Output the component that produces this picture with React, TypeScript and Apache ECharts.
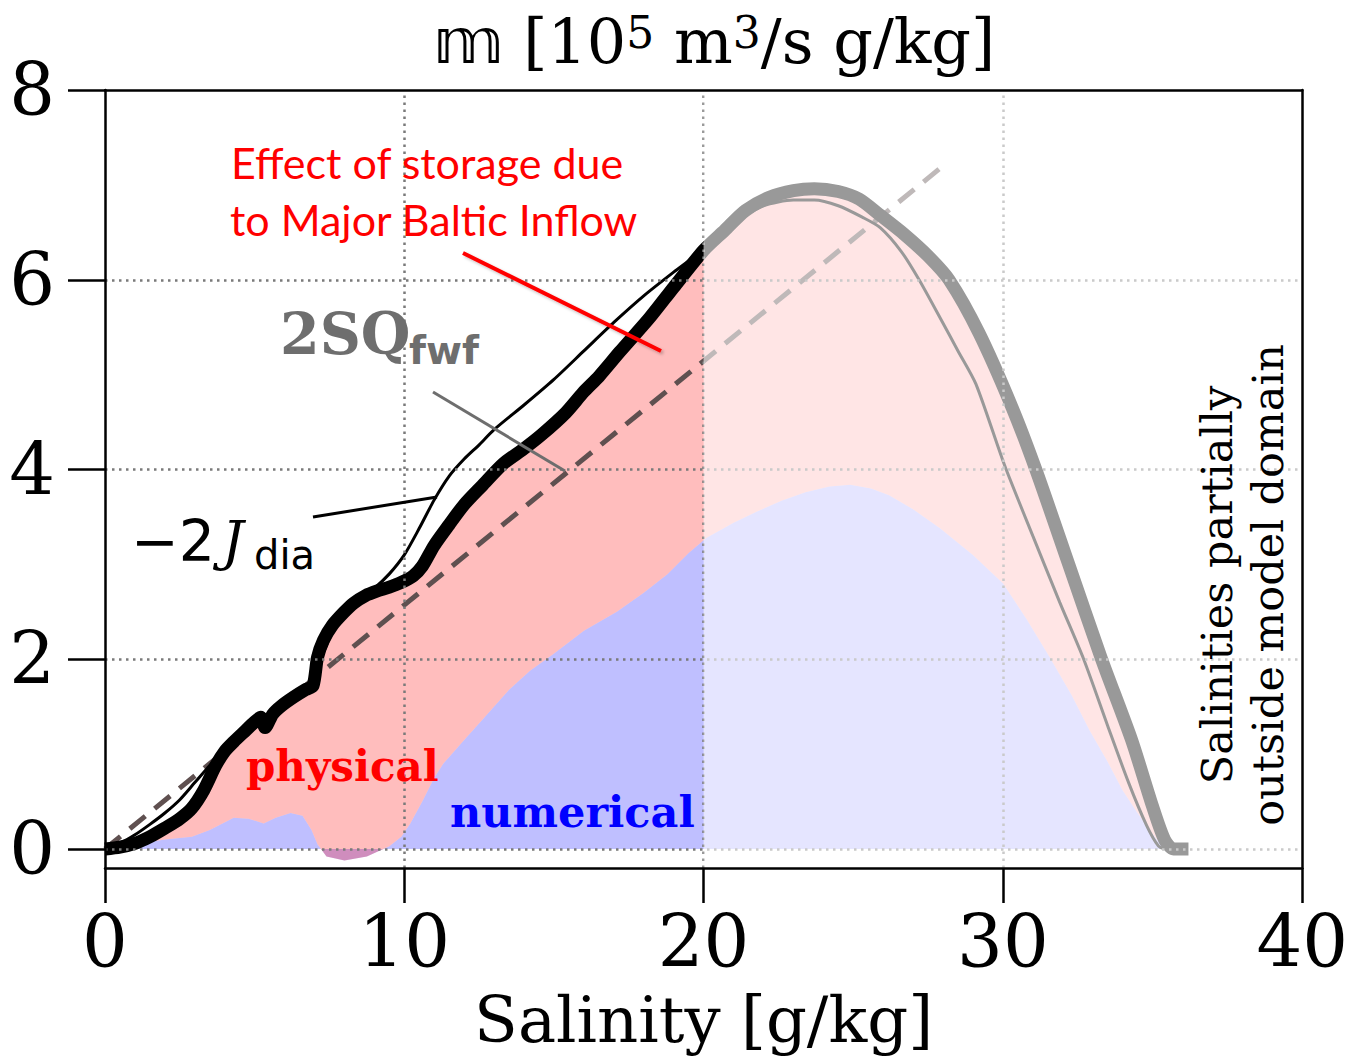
import React, { useEffect, useRef } from 'react';
import * as echarts from 'echarts';

// ---- data ----
// total transformation (thick line, physical + numerical)
const thickS = [0, 0.5, 1, 1.5, 2, 2.5, 2.9, 3.3, 3.7, 4.0, 4.3, 4.7, 5.0, 5.2, 5.35, 5.6, 5.9, 6.3, 6.7, 6.95, 7.1, 7.3, 7.6, 8.0, 8.3, 8.7, 9.1, 9.5, 9.9, 10.3, 10.6, 11.0, 11.5, 12.0, 12.6, 13.3, 14.0, 14.6, 15.4, 16.0, 16.5, 17.2, 18.2, 19.0, 20.0, 20.7, 21.4, 22.2, 23.0, 23.7, 24.5, 25.2, 25.9, 26.7, 27.5, 28.2, 29.2, 30.3, 31.1, 32.2, 33.3, 34.3, 35.0, 35.4, 35.7, 36.2];
const thickV = [0, 0.02, 0.06, 0.13, 0.22, 0.32, 0.43, 0.62, 0.88, 1.03, 1.13, 1.25, 1.34, 1.39, 1.28, 1.42, 1.51, 1.6, 1.68, 1.72, 2.02, 2.2, 2.36, 2.5, 2.59, 2.67, 2.72, 2.76, 2.81, 2.88, 2.98, 3.2, 3.42, 3.63, 3.83, 4.06, 4.22, 4.37, 4.6, 4.82, 4.98, 5.24, 5.6, 5.92, 6.31, 6.52, 6.73, 6.87, 6.94, 6.96, 6.93, 6.85, 6.68, 6.48, 6.25, 6.0, 5.44, 4.66, 4.0, 3.0, 2.0, 1.15, 0.45, 0.1, 0.0, 0.0];

// -2 J_dia (thin line)
const diaS = [0, 0.5, 1, 1.5, 2, 2.5, 3, 3.5, 4, 4.5, 5, 5.5, 6, 6.5, 7, 7.5, 8, 8.5, 9, 9.5, 10, 10.5, 11, 11.5, 12, 12.5, 13, 14, 15, 16, 17, 18, 19, 20, 21, 22, 23, 23.7, 24.5, 25.3, 25.9, 26.6, 27.2, 27.9, 28.5, 29.1, 30.05, 31.0, 31.9, 32.7, 33.5, 34.2, 34.8, 35.2, 35.4];
const diaV = [0, 0.06, 0.15, 0.26, 0.38, 0.52, 0.7, 0.88, 1.05, 1.2, 1.32, 1.42, 1.52, 1.62, 1.85, 2.22, 2.48, 2.64, 2.75, 2.9, 3.1, 3.38, 3.68, 3.93, 4.11, 4.26, 4.42, 4.68, 4.95, 5.25, 5.55, 5.83, 6.08, 6.32, 6.6, 6.78, 6.84, 6.84, 6.78, 6.66, 6.55, 6.3, 6.0, 5.6, 5.25, 4.9, 4.05, 3.3, 2.6, 2.0, 1.3, 0.7, 0.25, 0.03, 0];

// numerical part (blue fill top)
const numS = [0, 1, 2, 2.9, 3.5, 4.3, 4.8, 5.3, 5.7, 6.2, 6.6, 6.9, 7.1, 7.4, 8.0, 8.75, 9.5, 9.9, 10.2, 10.6, 11.0, 11.3, 12.0, 12.6, 13.5, 14.2, 14.96, 16.0, 17.1, 18.0, 18.8, 19.5, 20.1, 21.0, 21.8, 22.6, 23.4, 24.2, 24.9, 25.6, 26.2, 27.0, 27.9, 29.0, 30.0, 30.8, 31.55, 32.3, 32.9, 33.5, 34.0, 34.5, 34.9, 35.2, 35.5];
const numV = [0, 0.05, 0.1, 0.13, 0.2, 0.33, 0.32, 0.27, 0.33, 0.38, 0.35, 0.2, 0.05, -0.08, -0.12, -0.08, 0.03, 0.13, 0.27, 0.5, 0.75, 0.9, 1.15, 1.36, 1.68, 1.88, 2.05, 2.3, 2.5, 2.7, 2.9, 3.12, 3.28, 3.44, 3.56, 3.67, 3.76, 3.82, 3.84, 3.8, 3.73, 3.58, 3.38, 3.1, 2.8, 2.42, 2.03, 1.62, 1.25, 0.92, 0.62, 0.38, 0.2, 0.08, 0.0];

// 2 S Q_fwf (dashed straight line)
const fwfS = [0, 28];
const fwfV = [0, 7.2];

const xTicks = [0, 10, 20, 30, 40];
const yTicks = [0, 2, 4, 6, 8];
const gridX = [10, 20, 30];
const gridY = [0, 2, 4, 6];
const xMin = 0, xMax = 40, yMin = -0.2, yMax = 8;
const domainEdge = 20; // salinities above this partially outside model domain

const pairs = (s: number[], v: number[]) => s.map((x, i) => [x, v[i]]);

const SERIF = '"DejaVu Serif", serif';
const SANS = '"DejaVu Sans", sans-serif';

const txt = (x: number, y: number, text: string, fill: string, font: string, extra: any = {}) => ({
  type: 'text', x, y, z: 20,
  style: { text, fill, font, align: 'left', verticalAlign: 'middle', textAlign: 'left', textVerticalAlign: 'middle', ...extra },
});

export default function App() {
  const ref = useRef<HTMLDivElement>(null);
  useEffect(() => {
    document.body.style.margin = '0';
    if (!ref.current) return;
    const chart = echarts.init(ref.current, undefined, { renderer: 'svg' });

    const thick = pairs(thickS, thickV);
    const dia = pairs(diaS, diaV);
    const num = pairs(numS, numV);
    const fwf = pairs(fwfS, fwfV);

    const axisLineStyle = { color: '#000', width: 2.5 };

    const option: any = {
      animation: false,
      title: {
        text: '{m|𝕞} [10{s|5} m{s|3}/s g/kg]',
        left: 714,
        top: 10,
        textAlign: 'center',
        padding: 0,
        textStyle: {
          fontFamily: SERIF,
          fontSize: 62,
          fontWeight: 'normal',
          color: '#000',
          rich: {
            m: { fontFamily: SANS, fontSize: 62, color: '#000' },
            s: { fontFamily: SERIF, fontSize: 44, color: '#000', verticalAlign: 'top' },
          },
        },
      },
      grid: { left: 105, right: 48, top: 90, bottom: 195, containLabel: false },
      xAxis: [
        {
          type: 'value', min: xMin, max: xMax, interval: 10, position: 'bottom', z: 10,
          axisLine: { show: true, onZero: false, lineStyle: axisLineStyle },
          axisTick: { show: true, inside: false, length: 35, lineStyle: axisLineStyle, customValues: xTicks },
          axisLabel: { fontFamily: SERIF, fontSize: 72, color: '#000', margin: 38, customValues: xTicks },
          splitLine: { show: false },
          name: 'Salinity [g/kg]', nameLocation: 'middle', nameGap: 120,
          nameTextStyle: { fontFamily: SERIF, fontSize: 64, color: '#000' },
        },
        {
          type: 'value', min: xMin, max: xMax, position: 'top', z: 10,
          axisLine: { show: true, onZero: false, lineStyle: axisLineStyle },
          axisTick: { show: false }, axisLabel: { show: false }, splitLine: { show: false },
        },
      ],
      yAxis: [
        {
          type: 'value', min: yMin, max: yMax, position: 'left', z: 10,
          axisLine: { show: true, onZero: false, lineStyle: axisLineStyle },
          axisTick: { show: true, inside: false, length: 37, lineStyle: axisLineStyle, customValues: yTicks },
          axisLabel: { fontFamily: SERIF, fontSize: 72, color: '#000', margin: 50, customValues: yTicks },
          splitLine: { show: false },
        },
        {
          type: 'value', min: yMin, max: yMax, position: 'right', z: 10,
          axisLine: { show: true, onZero: false, lineStyle: axisLineStyle },
          axisTick: { show: false }, axisLabel: { show: false }, splitLine: { show: false },
        },
      ],
      series: [
        {
          type: 'custom', name: 'numerical', coordinateSystem: 'cartesian2d', silent: true, z: 1,
          data: [[0, 0]],
          renderItem: (_p: any, api: any) => ({
            type: 'polygon',
            shape: { points: num.map((d) => api.coord(d)) },
            style: { fill: 'rgba(0,0,255,0.25)' },
          }),
        },
        {
          type: 'custom', name: 'physical', coordinateSystem: 'cartesian2d', silent: true, z: 1,
          data: [[0, 0]],
          renderItem: (_p: any, api: any) => ({
            type: 'polygon',
            shape: { points: [...thick, ...num.slice().reverse()].map((d) => api.coord(d)) },
            style: { fill: 'rgba(255,0,0,0.26)' },
          }),
        },
        {
          type: 'line', name: 'grid', data: [[domainEdge, 0]], showSymbol: false, silent: true, z: 2,
          lineStyle: { opacity: 0 },
          markLine: {
            silent: true, symbol: ['none', 'none'], label: { show: false }, animation: false,
            lineStyle: { color: '#7a7a7a', type: [2.5, 4.5], width: 2.5 },
            data: [...gridX.map((x) => ({ xAxis: x })), ...gridY.map((y) => ({ yAxis: y }))],
          },
        },
        {
          type: 'line', name: '2SQfwf', data: fwf, showSymbol: false, silent: true, z: 3,
          lineStyle: { color: '#5f5050', width: 5, type: [20, 12] },
        },
        {
          type: 'line', name: 'total', data: thick, showSymbol: false, silent: true, z: 4, smooth: 0.25,
          lineStyle: { color: '#000', width: 13, join: 'round', cap: 'butt' },
        },
        {
          type: 'line', name: '-2Jdia', data: dia, showSymbol: false, silent: true, z: 4, smooth: 0.25,
          lineStyle: { color: '#000', width: 3 },
        },
        {
          type: 'custom', name: 'outside-domain veil', coordinateSystem: 'cartesian2d', silent: true, z: 6,
          data: [[domainEdge, yMax]],
          renderItem: (_p: any, api: any) => {
            const a = api.coord([domainEdge, yMax]);
            const b = api.coord([xMax, yMin]);
            return {
              type: 'rect',
              shape: { x: a[0], y: a[1], width: b[0] - a[0], height: b[1] - a[1] },
              style: { fill: 'rgba(255,255,255,0.6)' },
            };
          },
        },
      ],
      graphic: [
        txt(231, 162, 'Effect of storage due', '#ff0000', '43px Lato'),
        txt(230, 219, 'to Major Baltic Inflow', '#ff0000', '43px Lato'),
        { type: 'line', z: 20, shape: { x1: 463, y1: 253, x2: 661, y2: 351 }, style: { stroke: '#ff0000', lineWidth: 4, shadowBlur: 3, shadowColor: 'rgba(0,0,0,0.25)', shadowOffsetX: 2, shadowOffsetY: 2 } },
        txt(280, 333, '2SQ', '#6e6e6e', 'bold 57px "DejaVu Serif"'),
        txt(409, 350, 'fwf', '#6e6e6e', 'bold 39px "DejaVu Sans"'),
        { type: 'line', z: 20, shape: { x1: 433, y1: 392, x2: 565, y2: 471 }, style: { stroke: '#6e6e6e', lineWidth: 3 } },
        txt(131, 541, '−2', '#000', '57px "DejaVu Sans"'),
        txt(222, 541, 'J', '#000', 'italic 54px "DejaVu Serif"'),
        txt(254, 555, 'dia', '#000', '40px "DejaVu Sans"'),
        { type: 'line', z: 20, shape: { x1: 313, y1: 517, x2: 437, y2: 497 }, style: { stroke: '#000', lineWidth: 3 } },
        txt(246, 766, 'physical', '#ff0000', 'bold 42px "DejaVu Serif"'),
        txt(450, 812, 'numerical', '#0000ff', 'bold 43px "DejaVu Serif"'),
        { type: 'text', x: 1242, y: 585, rotation: Math.PI / 2, z: 20, style: { text: 'Salinities partially\noutside model domain', fill: '#000', font: '43px "DejaVu Serif"', lineHeight: 51, align: 'center', verticalAlign: 'middle', textAlign: 'center', textVerticalAlign: 'middle' } },
      ],
    };

    chart.setOption(option);
    return () => chart.dispose();
  }, []);

  return <div ref={ref} style={{ width: 1351, height: 1063 }} />;
}
